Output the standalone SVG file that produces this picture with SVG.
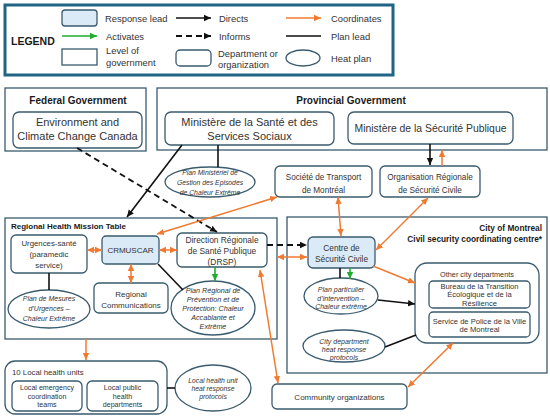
<svg xmlns="http://www.w3.org/2000/svg" width="550" height="420" viewBox="0 0 550 420">
<defs>
<marker id="ab" markerUnits="userSpaceOnUse" markerWidth="8" markerHeight="8" refX="7" refY="4" orient="auto-start-reverse"><path d="M0,0.8 L7,4 L0,7.2 Z" fill="#111"/></marker>
<marker id="ao" markerUnits="userSpaceOnUse" markerWidth="8" markerHeight="8" refX="7" refY="4" orient="auto-start-reverse"><path d="M0,0.8 L7,4 L0,7.2 Z" fill="#f07a32"/></marker>
<marker id="ag" markerUnits="userSpaceOnUse" markerWidth="8" markerHeight="8" refX="7" refY="4" orient="auto-start-reverse"><path d="M0,0.8 L7,4 L0,7.2 Z" fill="#1fae2e"/></marker>
</defs>
<style>
text{font-family:"Liberation Sans",Arial,sans-serif;fill:#333;}
.grp{fill:#fff;stroke:#3a5b6e;stroke-width:1.3;}
.box{fill:#fff;stroke:#3a5b6e;stroke-width:1.3;}
.lead{fill:#dbeaf7;stroke:#3a5b6e;stroke-width:1.3;}
.plan{fill:#fff;stroke:#3a5b6e;stroke-width:1.3;}
.ttl{font-weight:bold;fill:#1a1a1a;}
.it{font-style:italic;}
.m{text-anchor:middle;}
.b{stroke:#111;stroke-width:1.6;fill:none;}
.o{stroke:#f07a32;stroke-width:1.5;fill:none;}
.g{stroke:#1fae2e;stroke-width:1.6;fill:none;}
.d{stroke:#111;stroke-width:1.8;fill:none;stroke-dasharray:6,4;}
.lg{font-size:9.4px;}
</style>

<g id="legend">
<rect x="5" y="5" width="388" height="70" fill="#fff" stroke="#1f6485" stroke-width="3"/>
<text x="11" y="45" class="ttl" style="font-size:10.5px">LEGEND</text>
<rect x="62" y="10" width="35" height="16" rx="3" class="lead"/>
<text x="105" y="21.5" class="lg">Response lead</text>
<line x1="176" y1="18" x2="211" y2="18" class="b" marker-end="url(#ab)"/>
<text x="219" y="21.5" class="lg">Directs</text>
<line x1="286" y1="18" x2="321" y2="18" class="o" marker-end="url(#ao)"/>
<text x="331" y="21.5" class="lg">Coordinates</text>
<line x1="62" y1="36" x2="97" y2="36" class="g" marker-end="url(#ag)"/>
<text x="106" y="39.5" class="lg">Activates</text>
<line x1="176" y1="36" x2="211" y2="36" class="d" marker-end="url(#ab)"/>
<text x="219" y="39.5" class="lg">Informs</text>
<line x1="286" y1="36" x2="321" y2="36" class="b"/>
<text x="331" y="39.5" class="lg">Plan lead</text>
<rect x="62" y="49" width="35" height="16" class="box"/>
<text x="106" y="53.5" class="lg">Level of</text>
<text x="106" y="65.5" class="lg">government</text>
<rect x="176" y="50" width="35" height="16" rx="4" class="box"/>
<text x="218" y="56.5" class="lg">Department or</text>
<text x="218" y="67.5" class="lg">organization</text>
<ellipse cx="303" cy="58" rx="17" ry="8" class="plan"/>
<text x="331" y="61.5" class="lg">Heat plan</text>
</g>

<g id="federal">
<rect x="5" y="88" width="141" height="63" class="grp"/>
<text x="78" y="104" class="ttl m" style="font-size:10px">Federal Government</text>
</g>
<g id="eccc">
<rect x="13" y="112" width="129" height="36" rx="6" class="box"/>
<text x="77.5" y="126" class="m" style="font-size:11px">Environment and</text>
<text x="77.5" y="140" class="m" style="font-size:11px">Climate Change Canada</text>
</g>
<g id="provincial">
<rect x="157" y="88" width="390" height="62" class="grp"/>
<text x="351" y="104" class="ttl m" style="font-size:10px">Provincial Government</text>
</g>
<g id="msss">
<rect x="165" y="112" width="169" height="33" rx="6" class="box"/>
<text x="249.5" y="126" class="m" style="font-size:11px">Ministère de la Santé et des</text>
<text x="249.5" y="140" class="m" style="font-size:11px">Services Sociaux</text>
</g>
<g id="msp">
<rect x="348" y="112" width="165" height="32" rx="6" class="box"/>
<text x="430.5" y="132" class="m" style="font-size:10.4px">Ministère de la Sécurité Publique</text>
</g>
<g id="plan-ministeriel">
<ellipse cx="210" cy="182" rx="45" ry="15" class="plan"/>
<text x="210" y="174.5" class="m it" style="font-size:6.8px">Plan Ministériel de</text>
<text x="210" y="184.5" class="m it" style="font-size:6.8px">Gestion des Episodes</text>
<text x="210" y="194.5" class="m it" style="font-size:6.8px">de Chaleur Extrême</text>
</g>
<g id="stm">
<rect x="275" y="166" width="97" height="31" rx="5" class="box"/>
<text x="323.5" y="180" class="m" style="font-size:8.2px">Société de Transport</text>
<text x="323.5" y="193" class="m" style="font-size:8.2px">de Montréal</text>
</g>
<g id="orsc">
<rect x="380" y="166" width="100" height="31" rx="5" class="box"/>
<text x="430" y="180" class="m" style="font-size:8.2px">Organisation Régionale</text>
<text x="430" y="193" class="m" style="font-size:8.2px">de Sécurité Civile</text>
</g>

<g id="regional-table">
<rect x="5" y="218" width="272" height="121" class="grp"/>
<text x="11" y="229" class="ttl" style="font-size:8px">Regional Health Mission Table</text>
</g>
<g id="urgences">
<rect x="11" y="235" width="76" height="38" rx="5" class="box"/>
<text x="49" y="246" class="m" style="font-size:7.8px">Urgences-santé</text>
<text x="49" y="257" class="m" style="font-size:7.8px">(paramedic</text>
<text x="49" y="268" class="m" style="font-size:7.8px">service)</text>
</g>
<g id="crmuscar">
<rect x="102" y="236" width="57" height="28" rx="4" class="lead"/>
<text x="130.5" y="253" class="m" style="font-size:8px">CRMUSCAR</text>
</g>
<g id="drsp">
<rect x="177" y="233" width="90" height="34" rx="5" class="box"/>
<text x="222" y="243" class="m" style="font-size:8.4px">Direction Régionale</text>
<text x="222" y="254" class="m" style="font-size:8.4px">de Santé Publique</text>
<text x="222" y="265" class="m" style="font-size:8.4px">(DRSP)</text>
</g>
<g id="regional-comms">
<rect x="94" y="283" width="74" height="30" rx="5" class="box"/>
<text x="131" y="297" class="m" style="font-size:8px">Regional</text>
<text x="131" y="307.5" class="m" style="font-size:8px">Communications</text>
</g>
<g id="plan-mesures">
<ellipse cx="49" cy="309" rx="41" ry="19" class="plan"/>
<text x="49" y="300.5" class="m it" style="font-size:7px">Plan de Mesures</text>
<text x="49" y="310.5" class="m it" style="font-size:7px">d’Urgences –</text>
<text x="49" y="320.5" class="m it" style="font-size:7px">Chaleur Extrême</text>
</g>
<g id="plan-regional">
<ellipse cx="213" cy="308" rx="42" ry="27" class="plan"/>
<text x="213" y="292.5" class="m it" style="font-size:7.2px">Plan Régional de</text>
<text x="213" y="301.5" class="m it" style="font-size:7.2px">Prévention et de</text>
<text x="213" y="310.5" class="m it" style="font-size:7.2px">Protection: Chaleur</text>
<text x="213" y="319.5" class="m it" style="font-size:7.2px">Accablante et</text>
<text x="213" y="328.5" class="m it" style="font-size:7.2px">Extrême</text>
</g>

<g id="city">
<rect x="287" y="217" width="260" height="156" class="grp"/>
<text x="542" y="231" class="ttl" text-anchor="end" style="font-size:8.3px">City of Montreal</text>
<text x="542" y="241.5" class="ttl" text-anchor="end" style="font-size:8.3px">Civil security coordinating centre*</text>
</g>
<g id="csc">
<rect x="308" y="237" width="67" height="31" rx="5" class="lead"/>
<text x="341.5" y="251" class="m" style="font-size:8.3px">Centre de</text>
<text x="341.5" y="262" class="m" style="font-size:8.3px">Sécurité Civile</text>
</g>
<g id="plan-particulier">
<ellipse cx="341" cy="296" rx="37" ry="18" class="plan"/>
<text x="341" y="292" class="m it" style="font-size:7px">Plan particulier</text>
<text x="341" y="300.5" class="m it" style="font-size:7px">d’intervention –</text>
<text x="341" y="309" class="m it" style="font-size:7px">Chaleur extrême</text>
</g>
<g id="city-protocols">
<ellipse cx="344" cy="346" rx="41" ry="16" class="plan"/>
<text x="344" y="343.5" class="m it" style="font-size:7px">City department</text>
<text x="344" y="351.5" class="m it" style="font-size:7px">heat response</text>
<text x="344" y="359.5" class="m it" style="font-size:7px">protocols</text>
</g>
<g id="other-depts">
<rect x="415" y="263" width="124" height="80" rx="12" class="box"/>
<text x="477" y="277" class="m" style="font-size:7.3px">Other city departments</text>
</g>
<g id="bureau">
<rect x="429" y="281" width="101" height="27" rx="4" class="box"/>
<text x="479.5" y="288.5" class="m" style="font-size:7.6px">Bureau de la Transition</text>
<text x="479.5" y="297" class="m" style="font-size:7.6px">Écologique et de la</text>
<text x="479.5" y="305.5" class="m" style="font-size:7.6px">Résilience</text>
</g>
<g id="police">
<rect x="429" y="312" width="101" height="25" rx="4" class="box"/>
<text x="479.5" y="323.5" class="m" style="font-size:7.6px">Service de Police de la Ville</text>
<text x="479.5" y="332" class="m" style="font-size:7.6px">de Montreal</text>
</g>
<g id="community">
<rect x="272" y="384" width="135" height="25" rx="5" class="box"/>
<text x="339.5" y="400" class="m" style="font-size:8px">Community organizations</text>
</g>

<g id="local-units">
<rect x="5" y="361" width="162" height="53" rx="10" class="box"/>
<text x="12" y="375" style="font-size:7.8px">10 Local health units</text>
</g>
<g id="local-emergency">
<rect x="12" y="381" width="70" height="30" rx="5" class="box"/>
<text x="47" y="389.5" class="m" style="font-size:7.1px">Local emergency</text>
<text x="47" y="398.5" class="m" style="font-size:7.1px">coordination</text>
<text x="47" y="407" class="m" style="font-size:7.1px">teams</text>
</g>
<g id="local-public">
<rect x="87" y="381" width="71" height="30" rx="5" class="box"/>
<text x="122.5" y="389.5" class="m" style="font-size:7.1px">Local public</text>
<text x="122.5" y="398.5" class="m" style="font-size:7.1px">health</text>
<text x="122.5" y="407" class="m" style="font-size:7.1px">departments</text>
</g>
<g id="local-protocols">
<ellipse cx="213" cy="388" rx="38" ry="23" class="plan"/>
<text x="213" y="383" class="m it" style="font-size:6.8px">Local health unit</text>
<text x="213" y="391" class="m it" style="font-size:6.8px">heat response</text>
<text x="213" y="398.5" class="m it" style="font-size:6.8px">protocols</text>
</g>

<g id="connectors">
<line x1="77" y1="148" x2="217" y2="232" class="d" marker-end="url(#ab)"/>
<line x1="182" y1="145" x2="127" y2="217" class="b" marker-end="url(#ab)"/>
<line x1="218" y1="145" x2="218" y2="167" class="b"/>
<line x1="430" y1="144" x2="430" y2="165" class="b" marker-end="url(#ab)"/>
<line x1="442" y1="166" x2="442" y2="150" class="o" marker-end="url(#ao)"/>
<line x1="277" y1="197" x2="157" y2="234" class="o" marker-start="url(#ao)" marker-end="url(#ao)"/>
<line x1="87" y1="250" x2="102" y2="250" class="o" marker-start="url(#ao)" marker-end="url(#ao)"/>
<line x1="159" y1="250" x2="177" y2="250" class="o" marker-start="url(#ao)" marker-end="url(#ao)"/>
<line x1="131" y1="264" x2="131" y2="283" class="o" marker-start="url(#ao)" marker-end="url(#ao)"/>
<line x1="49" y1="273" x2="49" y2="290" class="b"/>
<line x1="215" y1="267" x2="215" y2="281" class="g" marker-end="url(#ag)"/>
<line x1="158" y1="264" x2="183" y2="290" class="b"/>
<line x1="267" y1="245" x2="307" y2="245" class="d" marker-end="url(#ab)"/>
<line x1="277" y1="257" x2="307" y2="257" class="o" marker-start="url(#ao)" marker-end="url(#ao)"/>
<line x1="260" y1="270" x2="278" y2="383" class="o" marker-start="url(#ao)" marker-end="url(#ao)"/>
<line x1="338" y1="197" x2="341" y2="236" class="o" marker-start="url(#ao)" marker-end="url(#ao)"/>
<line x1="428" y1="198" x2="376" y2="250" class="o" marker-start="url(#ao)" marker-end="url(#ao)"/>
<line x1="373" y1="266" x2="415" y2="283" class="o" marker-end="url(#ao)"/>
<line x1="340" y1="268" x2="340" y2="278" class="b"/>
<line x1="350" y1="268" x2="350" y2="279" class="g" marker-end="url(#ag)"/>
<line x1="378" y1="300" x2="415" y2="304" class="b" marker-end="url(#ab)"/>
<line x1="385" y1="347" x2="416" y2="335" class="b"/>
<line x1="408" y1="387" x2="453" y2="343" class="o" marker-start="url(#ao)" marker-end="url(#ao)"/>
<line x1="86" y1="339" x2="86" y2="360" class="o" marker-end="url(#ao)"/>
<line x1="167" y1="388" x2="175" y2="388" class="b"/>
</g>
</svg>
